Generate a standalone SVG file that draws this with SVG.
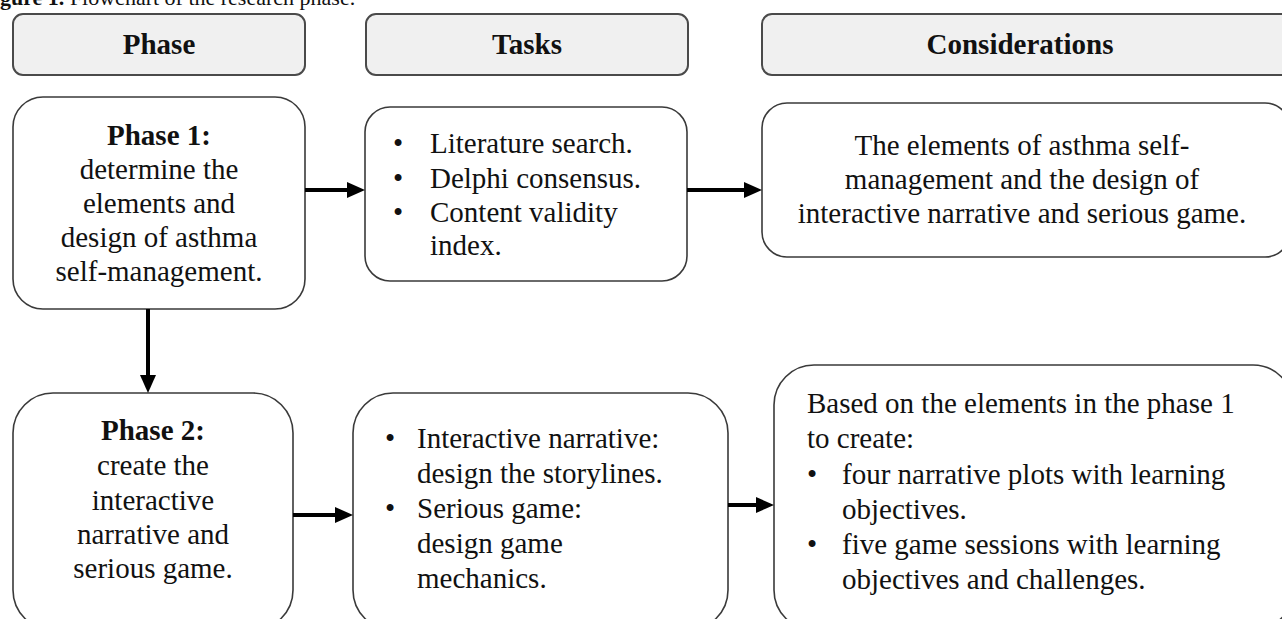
<svg xmlns="http://www.w3.org/2000/svg" width="1282" height="619" viewBox="0 0 1282 619">
<style>
.hdr{fill:#f0f0f0;stroke:#4a4a4a;stroke-width:2}
.box{fill:#fff;stroke:#3a3a3a;stroke-width:1.6}
text{font-family:"Liberation Serif","Times New Roman",serif;fill:#111;font-size:29px}
.h{font-weight:bold;text-anchor:middle}
.c{text-anchor:middle}
.b{font-weight:bold}
.cap{font-size:22px}
.conn{stroke:#000;stroke-width:4;fill:none}
</style>
<defs>
<marker id="ah" markerUnits="userSpaceOnUse" viewBox="0 0 18 18" markerWidth="18" markerHeight="18" refX="0" refY="9" orient="auto">
<path d="M0,1 L18,9 L0,17 Z" fill="#000"/>
</marker>
</defs>
<text class="cap" x="0" y="5"><tspan class="b">gure 1.</tspan> Flowchart of the research phase.</text>

<g id="hdr-phase"><rect class="hdr" x="13" y="14" width="292" height="61" rx="10"/><text class="h" x="159" y="54">Phase</text></g>
<g id="hdr-tasks"><rect class="hdr" x="366" y="14" width="322" height="61" rx="10"/><text class="h" x="527" y="54">Tasks</text></g>
<g id="hdr-cons"><rect class="hdr" x="762" y="14" width="540" height="61" rx="10"/><text class="h" x="1020" y="54">Considerations</text></g>

<g id="phase1"><rect class="box" x="13" y="97" width="292" height="212" rx="30"/>
<text class="c" x="159" y="145"><tspan class="b">Phase 1:</tspan></text>
<text class="c" x="159" y="179">determine the</text>
<text class="c" x="159" y="213">elements and</text>
<text class="c" x="159" y="247">design of asthma</text>
<text class="c" x="159" y="281">self-management.</text>
</g>

<g id="tasks1"><rect class="box" x="365" y="107" width="322" height="174" rx="25"/>
<text x="393" y="153">•</text><text x="430" y="153">Literature search.</text>
<text x="393" y="188">•</text><text x="430" y="188">Delphi consensus.</text>
<text x="393" y="222">•</text><text x="430" y="222">Content validity</text>
<text x="430" y="255">index.</text>
</g>

<g id="cons1"><rect class="box" x="762" y="103" width="528" height="154" rx="25"/>
<text class="c" x="1022" y="155">The elements of asthma self-</text>
<text class="c" x="1022" y="189">management and the design of</text>
<text class="c" x="1022" y="223">interactive narrative and serious game.</text>
</g>

<g id="phase2"><rect class="box" x="13" y="393" width="280" height="237" rx="40"/>
<text class="c" x="153" y="440"><tspan class="b">Phase 2:</tspan></text>
<text class="c" x="153" y="475">create the</text>
<text class="c" x="153" y="510">interactive</text>
<text class="c" x="153" y="544">narrative and</text>
<text class="c" x="153" y="578">serious game.</text>
</g>

<g id="tasks2"><rect class="box" x="353" y="393" width="375" height="237" rx="40"/>
<text x="385" y="448">•</text><text x="417" y="448">Interactive narrative:</text>
<text x="417" y="483">design the storylines.</text>
<text x="385" y="518">•</text><text x="417" y="518">Serious game:</text>
<text x="417" y="553">design game</text>
<text x="417" y="588">mechanics.</text>
</g>

<g id="cons2"><rect class="box" x="774" y="365" width="519" height="265" rx="40"/>
<text x="807" y="413">Based on the elements in the phase 1</text>
<text x="807" y="448">to create:</text>
<text x="807" y="484">•</text><text x="842" y="484">four narrative plots with learning</text>
<text x="842" y="519">objectives.</text>
<text x="807" y="554">•</text><text x="842" y="554">five game sessions with learning</text>
<text x="842" y="589">objectives and challenges.</text>
</g>

<g id="connectors">
<path class="conn" d="M305,190 H347" marker-end="url(#ah)"/>
<path class="conn" d="M687,190 H744" marker-end="url(#ah)"/>
<path class="conn" d="M148,309 V375" marker-end="url(#ah)"/>
<path class="conn" d="M293,515 H335" marker-end="url(#ah)"/>
<path class="conn" d="M728,505 H756" marker-end="url(#ah)"/>
</g>
</svg>
